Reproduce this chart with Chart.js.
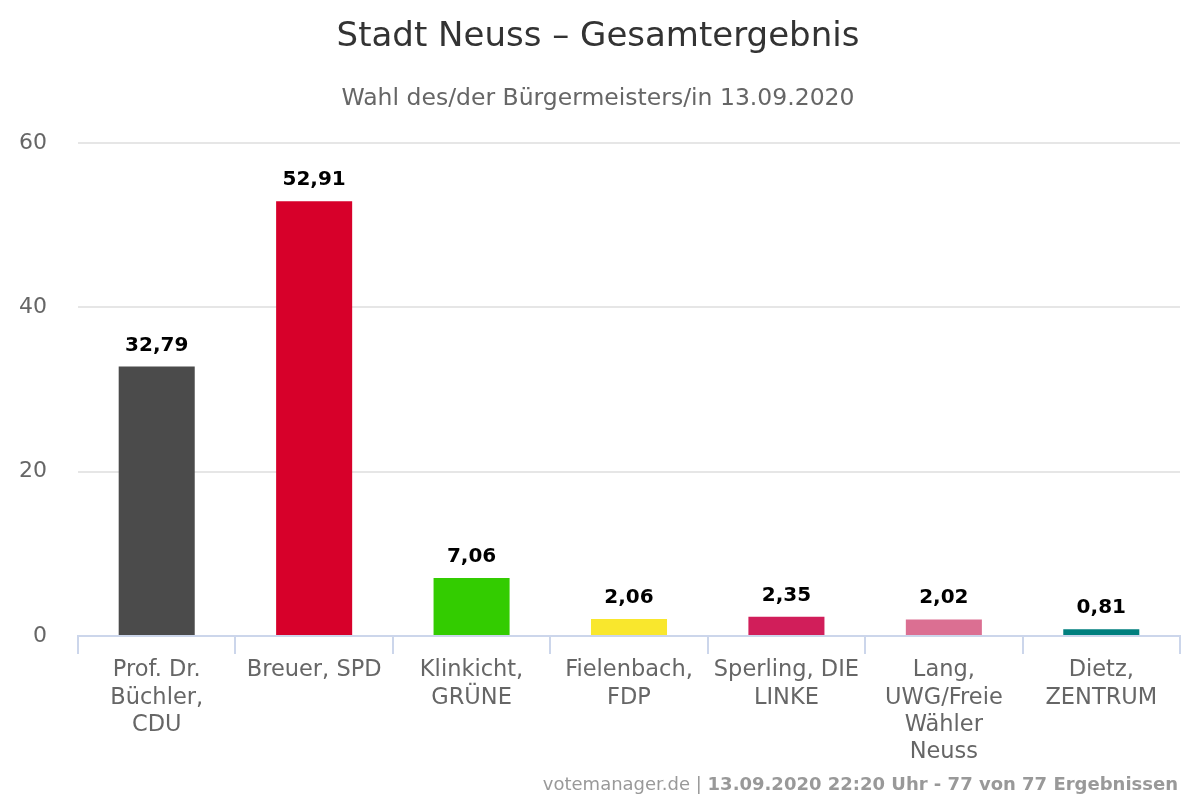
<!DOCTYPE html>
<html>
<head>
<meta charset="utf-8">
<script src="https://cdn.jsdelivr.net/npm/chart.js@4/dist/chart.umd.min.js"></script>
<style>
	html, body { margin: 0; padding: 0; background: #fff; }
	#wrap { width: 1200px; height: 800px; }
</style>
</head>
<body>
<div id="wrap"><canvas id="chart" width="1200" height="800"></canvas></div>
<script>
var candidates = [
	["Prof. Dr.", "Büchler,", "CDU"],
	["Breuer, SPD"],
	["Klinkicht,", "GRÜNE"],
	["Fielenbach,", "FDP"],
	["Sperling, DIE", "LINKE"],
	["Lang,", "UWG/Freie", "Wähler", "Neuss"],
	["Dietz,", "ZENTRUM"]
];
var shares = [32.79, 52.91, 7.06, 2.06, 2.35, 2.02, 0.81];
var partyColors = ["#4b4b4b", "#d7002a", "#33cc00", "#f9e72d", "#d11e5a", "#db6f92", "#007f7e"];
var yTicks = [0, 20, 40, 60];

var fontFamily = "'DejaVu Sans', Verdana, sans-serif";

// value labels above the bars, German decimal comma
var valueLabels = {
	id: 'valueLabels',
	afterDatasetsDraw: function(chart) {
		var ctx = chart.ctx;
		var meta = chart.getDatasetMeta(0);
		ctx.save();
		ctx.font = "bold 20px " + fontFamily;
		ctx.fillStyle = "#000";
		ctx.textAlign = "center";
		ctx.textBaseline = "alphabetic";
		meta.data.forEach(function(bar, i) {
			var txt = shares[i].toFixed(2).replace('.', ',');
			ctx.fillText(txt, bar.x, bar.y - 16);
		});
		ctx.restore();
	}
};

// credit line bottom right
var credits = {
	id: 'credits',
	afterDraw: function(chart) {
		var ctx = chart.ctx;
		var right = chart.width - 22;
		var base = chart.height - 10;
		var boldPart = "13.09.2020 22:20 Uhr - 77 von 77 Ergebnissen";
		var normalPart = "votemanager.de | ";
		ctx.save();
		ctx.fillStyle = "#999999";
		ctx.textBaseline = "alphabetic";
		ctx.textAlign = "right";
		ctx.font = "bold 18px " + fontFamily;
		ctx.fillText(boldPart, right, base);
		var w = ctx.measureText(boldPart).width;
		ctx.font = "18px " + fontFamily;
		ctx.fillText(normalPart, right - w, base);
		ctx.restore();
	}
};

var ctx = document.getElementById('chart');
new Chart(ctx, {
	type: 'bar',
	data: {
		labels: candidates,
		datasets: [{
			data: shares,
			backgroundColor: partyColors,
			borderWidth: 0,
			barPercentage: 0.483,
			categoryPercentage: 1
		}]
	},
	options: {
		responsive: false,
		animation: false,
		layout: { padding: { left: 16, right: 20, top: 0, bottom: 0 } },
		plugins: {
			legend: { display: false },
			tooltip: { enabled: false },
			title: {
				display: true,
				text: "Stadt Neuss – Gesamtergebnis",
				color: "#333333",
				font: { family: fontFamily, size: 34, weight: 'normal' },
				padding: { top: 17, bottom: 27 }
			},
			subtitle: {
				display: true,
				text: "Wahl des/der Bürgermeisters/in 13.09.2020",
				color: "#666666",
				font: { family: fontFamily, size: 23.5, weight: 'normal' },
				padding: { top: 0, bottom: 30 }
			}
		},
		scales: {
			x: {
				offset: true,
				border: { color: "#ccd6eb", width: 2 },
				grid: {
					offset: true,
					drawOnChartArea: false,
					drawTicks: true,
					tickLength: 18,
					color: "#ccd6eb",
					lineWidth: 2
				},
				ticks: {
					color: "#666666",
					font: { family: fontFamily, size: 22.5, lineHeight: 1.21 },
					padding: 3,
					maxRotation: 0,
					autoSkip: false
				},
				afterFit: function(scale) { scale.height = 164; }
			},
			y: {
				min: 0,
				max: 60,
				border: { display: false },
				grid: { color: "#e6e6e6", lineWidth: 2, drawTicks: false },
				ticks: {
					color: "#666666",
					font: { family: fontFamily, size: 22 },
					padding: 31,
					stepSize: 20,
					callback: function(v) { return yTicks.indexOf(v) >= 0 ? v : ''; }
				},
				afterFit: function(scale) { scale.width = 62; }
			}
		}
	},
	plugins: [valueLabels, credits]
});
</script>
</body>
</html>
